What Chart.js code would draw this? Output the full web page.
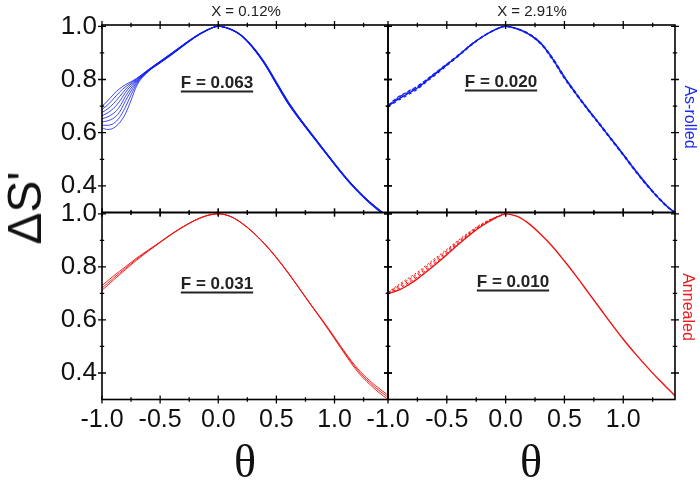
<!DOCTYPE html>
<html>
<head>
<meta charset="utf-8">
<script src="https://cdn.jsdelivr.net/npm/chart.js@4.4.1/dist/chart.umd.min.js"></script>
<style>
  body { margin: 0; background: #fff; }
  #wrap { position: relative; width: 700px; height: 482px; overflow: hidden; font-family: "Liberation Sans", Arial, sans-serif; }
  #wrap canvas { position: absolute; left: 0; top: 0; }
  .lbl { position: absolute; white-space: nowrap; line-height: 1; transform: translate(-50%, -50%); color: #111; }
  .title { font-size: 15px; color: #222; }
  .flab { font-size: 17px; font-weight: bold; color: #222; text-decoration: underline; text-decoration-thickness: 1.5px; text-underline-offset: 3px; }
  .ylab { font-size: 48px; transform: translate(-50%, -50%) rotate(-90deg); }
  .xlab { font-family: "Liberation Serif", "Times New Roman", serif; font-size: 46px; }
  .side { font-size: 16px; transform: translate(-50%, -50%) rotate(90deg); }
</style>
</head>
<body>
<div id="wrap">
  <canvas id="tl" width="700" height="482"></canvas>
  <canvas id="tr" width="700" height="482"></canvas>
  <canvas id="bl" width="700" height="482"></canvas>
  <canvas id="br" width="700" height="482"></canvas>

  <div class="lbl title" style="left:246px; top:10px;">X = 0.12%</div>
  <div class="lbl title" style="left:532px; top:10px;">X = 2.91%</div>
  <div class="lbl flab" style="left:217px; top:82px;">F = 0.063</div>
  <div class="lbl flab" style="left:501px; top:81px;">F = 0.020</div>
  <div class="lbl flab" style="left:217px; top:283px;">F = 0.031</div>
  <div class="lbl flab" style="left:513px; top:281px;">F = 0.010</div>
  <div class="lbl ylab" style="left:25px; top:208px;">ΔS'</div>
  <div class="lbl xlab" style="left:245px; top:462px;">θ</div>
  <div class="lbl xlab" style="left:531px; top:462px;">θ</div>
  <div class="lbl side" style="left:690px; top:117px; color:#1a2af0;">As-rolled</div>
  <div class="lbl side" style="left:688px; top:307px; color:#f01818;">Annealed</div>
</div>
<script>
// eje theta comun
const theta = [-1.0, -0.95, -0.9, -0.85, -0.8, -0.75, -0.7, -0.6, -0.5, -0.4, -0.3, -0.2, -0.1, 0,
  0.1, 0.2, 0.3, 0.4, 0.5, 0.6, 0.7, 0.8, 0.9, 1.0, 1.1, 1.2, 1.3, 1.4, 1.45];
const thetaLeft = [-1.0, -0.95, -0.9, -0.85, -0.8, -0.75, -0.7, -0.6, -0.5, -0.4, -0.3, -0.2, -0.1, 0];

const xTicks = [-1.0, -0.5, 0, 0.5, 1.0];
const xMinor = [-0.75, -0.25, 0.25, 0.75, 1.25];
const yTicks = [0.4, 0.6, 0.8, 1.0];
const yMinor = [0.5, 0.7, 0.9];

// As-rolled, X = 0.12%
const tl1 = [0.700,0.720,0.745,0.765,0.780,0.792,0.805,0.838,0.869,0.900,0.932,0.962,0.986,1.000,0.991,0.967,0.923,0.864,0.792,0.719,0.656,0.599,0.542,0.486,0.432,0.384,0.342,0.306,0.289];
const tl2 = [0.688,0.705,0.728,0.752,0.772,0.788,0.803,0.837,0.868,0.899,0.931,0.961,0.986,1.000,0.991,0.966,0.922,0.863,0.790,0.717,0.655,0.598,0.541,0.485,0.431,0.383,0.341,0.305,0.288];
const tl3 = [0.676,0.690,0.710,0.735,0.762,0.783,0.800,0.836,0.867,0.898,0.930,0.961,0.985,1.000,0.990,0.966,0.921,0.862,0.789,0.716,0.654,0.597,0.540,0.484,0.430,0.382,0.340,0.304,0.287];
const tl4 = [0.664,0.675,0.692,0.717,0.750,0.777,0.797,0.835,0.866,0.897,0.930,0.960,0.985,1.000,0.990,0.965,0.920,0.860,0.787,0.714,0.652,0.595,0.539,0.483,0.429,0.381,0.339,0.303,0.286];
const tl5 = [0.652,0.660,0.673,0.697,0.735,0.768,0.794,0.834,0.865,0.896,0.929,0.960,0.985,1.000,0.990,0.965,0.919,0.859,0.786,0.713,0.651,0.594,0.538,0.482,0.428,0.380,0.338,0.302,0.285];
const tl6 = [0.640,0.645,0.655,0.677,0.718,0.757,0.790,0.833,0.864,0.895,0.928,0.959,0.984,1.000,0.989,0.964,0.918,0.858,0.784,0.711,0.650,0.593,0.537,0.481,0.427,0.379,0.337,0.301,0.284];
const tl7 = [0.628,0.628,0.635,0.657,0.695,0.742,0.785,0.832,0.863,0.894,0.927,0.959,0.984,1.000,0.989,0.963,0.917,0.857,0.783,0.710,0.649,0.592,0.536,0.480,0.426,0.378,0.336,0.300,0.283];
const tl8 = [0.618,0.612,0.618,0.637,0.670,0.722,0.778,0.830,0.862,0.893,0.926,0.958,0.984,1.000,0.989,0.963,0.916,0.856,0.782,0.709,0.648,0.591,0.535,0.479,0.425,0.377,0.335,0.299,0.282];

// As-rolled, X = 2.91%
const tr1 = [0.700,0.715,0.730,0.742,0.755,0.768,0.785,0.820,0.855,0.890,0.928,0.960,0.985,1.000,0.990,0.970,0.935,0.877,0.807,0.745,0.687,0.631,0.574,0.517,0.459,0.404,0.354,0.312,0.298];
const tr2 = [0.702,0.722,0.738,0.750,0.763,0.775,0.791,0.825,0.859,0.893,0.930,0.961,0.986,1.000,0.991,0.972,0.938,0.881,0.811,0.749,0.690,0.634,0.577,0.520,0.462,0.407,0.357,0.314,0.299];
const tr3 = [0.701,0.711,0.725,0.737,0.750,0.763,0.781,0.816,0.852,0.888,0.926,0.959,0.985,1.000,0.990,0.968,0.932,0.873,0.803,0.742,0.684,0.628,0.571,0.514,0.456,0.401,0.352,0.310,0.297];
const tr4 = [0.703,0.719,0.735,0.747,0.760,0.772,0.788,0.823,0.857,0.892,0.929,0.960,0.985,1.000,0.991,0.971,0.937,0.880,0.810,0.748,0.689,0.633,0.576,0.519,0.461,0.406,0.356,0.313,0.299];

// Annealed, X = 0.12%
const bl1 = [0.730,0.748,0.766,0.783,0.800,0.817,0.834,0.864,0.894,0.925,0.952,0.976,0.993,1.000,0.991,0.966,0.930,0.887,0.836,0.779,0.718,0.656,0.597,0.535,0.472,0.416,0.372,0.336,0.320];
const bl2 = [0.720,0.739,0.758,0.776,0.794,0.812,0.830,0.862,0.893,0.924,0.952,0.976,0.993,1.000,0.991,0.966,0.930,0.886,0.835,0.778,0.717,0.655,0.595,0.532,0.468,0.410,0.365,0.328,0.312];
const bl3 = [0.712,0.731,0.751,0.770,0.789,0.808,0.826,0.860,0.892,0.923,0.951,0.975,0.993,1.000,0.991,0.965,0.929,0.885,0.834,0.777,0.716,0.654,0.593,0.529,0.464,0.404,0.358,0.320,0.304];

// Annealed, X = 2.91%
const br1 = [0.700,0.706,0.714,0.726,0.740,0.755,0.772,0.808,0.846,0.885,0.922,0.955,0.981,1.000,0.990,0.962,0.922,0.876,0.822,0.765,0.705,0.645,0.585,0.527,0.474,0.424,0.376,0.332,0.310];
const br2 = [0.702,0.710,0.720,0.733,0.747,0.762,0.779,0.814,0.851,0.889,0.925,0.957,0.982,1.000];
const br3 = [0.702,0.714,0.726,0.739,0.753,0.768,0.785,0.820,0.856,0.893,0.928,0.959,0.983,1.000];
const br4 = [0.703,0.717,0.731,0.745,0.759,0.774,0.791,0.826,0.861,0.897,0.931,0.961,0.984,1.000];
const br5 = [0.704,0.720,0.736,0.751,0.765,0.780,0.797,0.832,0.866,0.901,0.934,0.963,0.985,1.000];

const W = 700, H = 482;
const BLUE = "#0d1cf2";
const RED = "#f21010";
const Y_LABEL_W = 70;   // espacio de etiquetas del eje y
const X_LABEL_H = 45;   // espacio de etiquetas del eje x

// marco con marcas cruzadas en los cuatro lados
const framePlugin = {
  id: "frame",
  afterDraw(chart) {
    const { ctx, chartArea: a, scales: { x, y } } = chart;
    ctx.save();
    ctx.strokeStyle = "#000";
    ctx.lineWidth = 1.6;
    ctx.strokeRect(a.left, a.top, a.right - a.left, a.bottom - a.top);
    ctx.lineWidth = 1.3;
    ctx.beginPath();
    const xMark = (v, len) => {
      const px = x.getPixelForValue(v);
      if (px < a.left - 0.5 || px > a.right + 0.5) return;
      ctx.moveTo(px, a.top - len); ctx.lineTo(px, a.top + len);
      ctx.moveTo(px, a.bottom - len); ctx.lineTo(px, a.bottom + len);
    };
    const yMark = (v, len) => {
      const py = y.getPixelForValue(v);
      if (py < a.top - 0.5 || py > a.bottom + 0.5) return;
      ctx.moveTo(a.left - len, py); ctx.lineTo(a.left + len, py);
      ctx.moveTo(a.right - len, py); ctx.lineTo(a.right + len, py);
    };
    xTicks.forEach(v => xMark(v, 4));
    xMinor.forEach(v => xMark(v, 2.2));
    yTicks.forEach(v => yMark(v, 4));
    yMinor.forEach(v => yMark(v, 2.2));
    ctx.stroke();
    ctx.restore();
  }
};

function series(xs, ys, color, width, dash) {
  return {
    data: ys.map((v, i) => ({ x: xs[i], y: v })),
    showLine: true,
    borderColor: color,
    borderWidth: width,
    borderDash: dash || [],
    pointRadius: 0,
    cubicInterpolationMode: "monotone"
  };
}

function makePanel(id, rect, xMax, datasets, showX, showY) {
  const yw = showY ? Y_LABEL_W : 0;
  const xh = showX ? X_LABEL_H : 0;
  return new Chart(document.getElementById(id), {
    type: "scatter",
    data: { datasets },
    options: {
      responsive: false,
      animation: false,
      devicePixelRatio: 1,
      layout: { padding: { left: rect.l - yw, top: rect.t, right: W - rect.r, bottom: H - rect.b - xh } },
      plugins: { legend: { display: false }, tooltip: { enabled: false } },
      scales: {
        x: {
          type: "linear", min: -1.0, max: xMax,
          grid: { display: false, drawTicks: false }, border: { display: false },
          afterFit: s => { s.height = xh; },
          afterBuildTicks: s => { s.ticks = xTicks.map(v => ({ value: v })); },
          ticks: { display: showX, padding: 6, color: "#111", maxRotation: 0, autoSkip: false,
            font: { family: "Liberation Sans", size: 25 }, callback: v => v.toFixed(1) }
        },
        y: {
          type: "linear", min: 0.3, max: 1.005,
          grid: { display: false, drawTicks: false }, border: { display: false },
          afterFit: s => { s.width = yw; },
          afterBuildTicks: s => { s.ticks = yTicks.map(v => ({ value: v })); },
          ticks: { display: showY, padding: 5, color: "#111", autoSkip: false,
            font: { family: "Liberation Sans", size: 26 }, callback: v => v.toFixed(1) }
        }
      }
    },
    plugins: [framePlugin]
  });
}

const topRow = { t: 25, b: 212.5 };
const botRow = { t: 212.5, b: 399.5 };

makePanel("tl", { l: 102, r: 388, ...topRow }, 1.46,
  [tl1, tl2, tl3, tl4, tl5, tl6, tl7, tl8].map(s => series(theta, s, BLUE, 0.8)), false, true);

makePanel("tr", { l: 388, r: 675, ...topRow }, 1.44, [
  series(theta, tr2, BLUE, 1.1, [4, 2]),
  series(theta, tr3, BLUE, 1.1, [3, 3]),
  series(theta, tr4, BLUE, 1.1, [5, 2]),
  series(theta, tr1, BLUE, 1.4)
], false, false);

makePanel("bl", { l: 102, r: 388, ...botRow }, 1.46,
  [bl1, bl2, bl3].map(s => series(theta, s, RED, 0.9)), true, true);

makePanel("br", { l: 388, r: 675, ...botRow }, 1.44, [
  series(thetaLeft, br2, RED, 1.0, [3, 2]),
  series(thetaLeft, br3, RED, 1.0, [2, 3]),
  series(thetaLeft, br4, RED, 1.0, [3, 2]),
  series(thetaLeft, br5, RED, 1.0, [2, 2]),
  series(theta, br1, RED, 1.4)
], true, false);
</script>
</body>
</html>
